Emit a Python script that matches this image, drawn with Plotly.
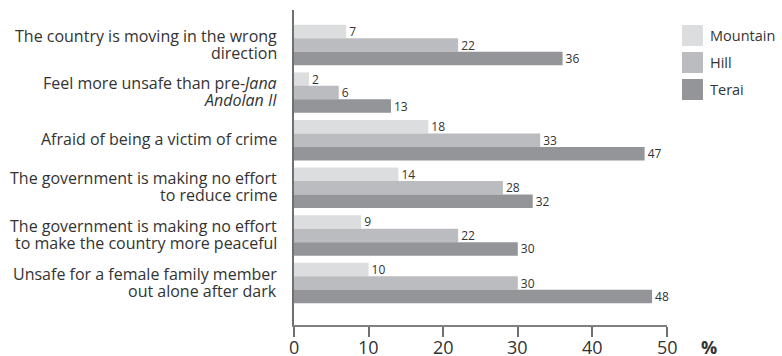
import plotly.graph_objects as go

categories = [
    "The country is moving in the wrong<br>direction",
    "Feel more unsafe than pre-<i>Jana</i><br><i>Andolan II</i>",
    "Afraid of being a victim of crime",
    "The government is making no effort<br>to reduce crime",
    "The government is making no effort<br>to make the country more peaceful",
    "Unsafe for a female family member<br>out alone after dark",
]
series_names = ["Mountain", "Hill", "Terai"]
mountain = [7, 2, 18, 14, 9, 10]
hill = [22, 6, 33, 28, 22, 30]
terai = [36, 13, 47, 32, 30, 48]
colors = ["#dcdddf", "#bbbcbf", "#939598"]
x_ticks = [0, 10, 20, 30, 40, 50]

values = [mountain, hill, terai]
ypos = list(range(len(categories)))

L, R, T, B = 294, 115, 10, 31
W, H = 782, 356
PW, PH = W - L - R, H - T - B

fig = go.Figure()
for name, vals, col in zip(series_names, values, colors):
    fig.add_trace(go.Bar(
        y=ypos, x=vals, name=name, orientation="h",
        marker=dict(color=col, line=dict(width=0)),
        text=[str(v) for v in vals], textposition="outside",
        constraintext="none",
        textfont=dict(size=12, color="#333333", family="Open Sans"),
        cliponaxis=False,
    ))

fig.update_layout(
    width=W, height=H,
    margin=dict(l=L, r=R, t=T, b=B, autoexpand=False),
    barmode="group", bargap=0.15, bargroupgap=0,
    plot_bgcolor="white", paper_bgcolor="white",
    showlegend=False,
    font=dict(family="Open Sans", color="#333333"),
    xaxis=dict(
        range=[0, 50], tickvals=x_ticks, showticklabels=False,
        showgrid=False, zeroline=False, automargin=False,
        showline=True, linecolor="#808080", linewidth=2,
        ticks="outside", ticklen=10, tickcolor="#707070", tickwidth=1.5,
    ),
    yaxis=dict(
        range=[5.88, -0.735], tickvals=ypos, showticklabels=False,
        showgrid=False, zeroline=False, automargin=False,
        showline=True, linecolor="#707070", linewidth=2,
        ticks="",
    ),
)

# x tick labels placed close under the tick marks
for t in x_ticks:
    fig.add_annotation(xref="x", yref="paper", x=t, y=0, yshift=-9,
                       text=str(t), showarrow=False, xanchor="center", yanchor="top",
                       borderpad=0, font=dict(size=18, color="#333333"))

fig.add_annotation(xref="paper", yref="paper", x=(708.5 - L) / PW, y=0, yshift=-9,
                   text="<b>%</b>", showarrow=False, borderpad=0,
                   xanchor="center", yanchor="top",
                   font=dict(size=18, color="#333333"))

# category labels (one annotation per line for tight line spacing)
for i, cat in enumerate(categories):
    lines = cat.split("<br>")
    n = len(lines)
    for j, line in enumerate(lines):
        shift = ((n - 1) / 2 - j) * 17
        fig.add_annotation(xref="paper", yref="y", x=0, y=i, xshift=-16,
                           yshift=shift + 1, text=line, showarrow=False,
                           xanchor="right", yanchor="middle", borderpad=0,
                           font=dict(size=16, color="#333333"))

# legend swatches
for i, (name, col) in enumerate(zip(series_names, colors)):
    y0 = 25 + i * 27
    fig.add_shape(type="rect", xref="paper", yref="paper",
                  x0=(682 - L) / PW, x1=(703 - L) / PW,
                  y0=(H - B - (y0 + 21)) / PH, y1=(H - B - y0) / PH,
                  fillcolor=col, line=dict(width=0))
    fig.add_annotation(xref="paper", yref="paper",
                       x=(708 - L) / PW, y=(H - B - (y0 + 10.5)) / PH,
                       text=name, showarrow=False, xanchor="left", yanchor="middle",
                       font=dict(size=14.5, color="#333333"))

fig.write_html("out.html", config={"displayModeBar": False},
               post_script="document.body.style.margin='0';document.body.style.overflow='hidden';")
